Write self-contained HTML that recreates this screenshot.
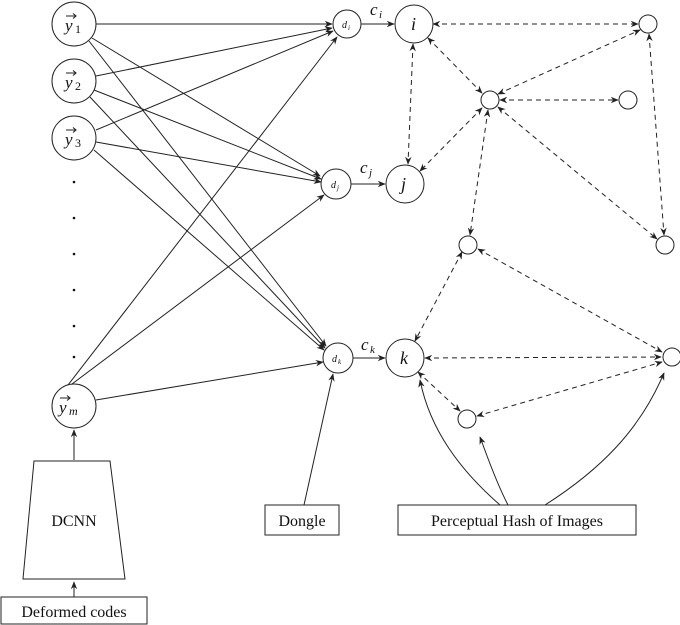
<!DOCTYPE html>
<html><head><style>body{margin:0;background:#fff}svg{display:block}</style></head><body>
<svg width="680" height="625" viewBox="0 0 680 625" xmlns="http://www.w3.org/2000/svg" font-family="Liberation Serif, DejaVu Serif, serif">
<defs><marker id="a" viewBox="0 0 10 10" refX="9" refY="5" markerWidth="8" markerHeight="8" orient="auto-start-reverse" markerUnits="userSpaceOnUse"><path d="M0,1 L10,5 L0,9 L3,5 z" fill="#222"/></marker></defs>
<g stroke="#222" stroke-width="1" fill="none">
<circle cx="74" cy="24" r="22"/><circle cx="74" cy="81" r="22"/><circle cx="74" cy="138" r="22"/><circle cx="74" cy="406" r="22"/>
<circle cx="347" cy="24" r="14"/><circle cx="336" cy="184" r="15"/><circle cx="338" cy="358" r="15"/>
<circle cx="414" cy="24" r="19"/><circle cx="405" cy="184" r="19"/><circle cx="405" cy="358" r="19"/>
<circle cx="648" cy="24" r="9"/><circle cx="490" cy="100" r="9"/><circle cx="628" cy="100" r="9"/><circle cx="665" cy="245" r="9"/><circle cx="468" cy="245" r="9"/><circle cx="672" cy="357" r="9"/><circle cx="467" cy="419" r="9"/>
<path d="M34,461 L110,461 L125,579 L23,579 Z"/>
<rect x="1" y="597" width="146" height="27"/><rect x="265" y="505" width="74" height="30"/><rect x="398" y="505" width="238" height="30"/>
<g marker-end="url(#a)">
<line x1="96" y1="24" x2="332" y2="24"/><line x1="92" y1="38" x2="320" y2="176"/><line x1="89" y1="41" x2="326" y2="346"/>
<line x1="96" y1="76" x2="332" y2="28"/><line x1="94" y1="90" x2="321" y2="179"/><line x1="90" y1="97" x2="325" y2="348"/>
<line x1="96" y1="130" x2="333" y2="31"/><line x1="96" y1="142" x2="321" y2="182"/><line x1="94" y1="150" x2="324" y2="350"/>
<line x1="68" y1="385" x2="337" y2="37"/><line x1="72" y1="384" x2="324" y2="195"/><line x1="96" y1="400" x2="323" y2="362"/>
<line x1="361" y1="24" x2="394" y2="24"/><line x1="351" y1="184" x2="385" y2="184"/><line x1="353" y1="358" x2="385" y2="358"/>
<line x1="74" y1="460" x2="74" y2="430"/><line x1="74" y1="597" x2="74" y2="582"/>
<line x1="304" y1="505" x2="333" y2="374"/>
<path d="M500,505 C460,470 430,430 420,380"/><path d="M508,505 C495,480 485,450 480,437"/><path d="M545,505 C600,470 640,430 664,373"/>
</g>
<g stroke-dasharray="5,4" marker-start="url(#a)" marker-end="url(#a)">
<line x1="433" y1="24" x2="638" y2="24"/><line x1="413" y1="44" x2="408" y2="164"/>
<line x1="428" y1="38" x2="482" y2="93"/><line x1="482" y1="108" x2="420" y2="171"/>
<line x1="500" y1="100" x2="618" y2="100"/><line x1="498" y1="94" x2="640" y2="30"/>
<line x1="498" y1="107" x2="657" y2="239"/><line x1="488" y1="110" x2="470" y2="235"/>
<line x1="649" y1="34" x2="664" y2="235"/><line x1="462" y1="252" x2="415" y2="341"/>
<line x1="478" y1="249" x2="662" y2="352"/><line x1="425" y1="358" x2="661" y2="357"/>
<line x1="418" y1="372" x2="460" y2="411"/><line x1="477" y1="416" x2="662" y2="362"/>
</g>
<g stroke-width="1.1">
<path d="M66,16 h10 M73,13.5 l3,2.5 l-3,2.5"/><path d="M66,73 h10 M73,70.5 l3,2.5 l-3,2.5"/><path d="M66,130 h10 M73,127.5 l3,2.5 l-3,2.5"/><path d="M60,398 h10 M67,395.5 l3,2.5 l-3,2.5"/>
</g></g>
<g font-style="italic" font-size="17" fill="#111">
<text x="65" y="31">y</text><text x="75" y="33" font-size="12" font-style="normal">1</text>
<text x="65" y="88">y</text><text x="75" y="90" font-size="12" font-style="normal">2</text>
<text x="65" y="145">y</text><text x="75" y="147" font-size="12" font-style="normal">3</text>
<text x="59" y="413">y</text><text x="69" y="415" font-size="12">m</text>
<text x="342" y="28" font-size="10">d</text><text x="348" y="30" font-size="7">i</text>
<text x="331" y="188" font-size="10">d</text><text x="337" y="190" font-size="7">j</text>
<text x="332" y="362" font-size="10">d</text><text x="338" y="364" font-size="7">k</text>
<text x="411" y="30" font-size="18">i</text><text x="401" y="190" font-size="18">j</text><text x="400" y="364" font-size="18">k</text>
<text x="370" y="15">c</text><text x="379" y="18" font-size="11">i</text>
<text x="360" y="173">c</text><text x="369" y="176" font-size="11">j</text>
<text x="361" y="350">c</text><text x="370" y="353" font-size="11">k</text>
</g>
<g fill="#111"><circle cx="74" cy="182" r="1.3"/><circle cx="74" cy="218" r="1.3"/><circle cx="74" cy="254" r="1.3"/><circle cx="74" cy="290" r="1.3"/><circle cx="74" cy="326" r="1.3"/><circle cx="74" cy="357" r="1.3"/></g>
<g font-size="16" text-anchor="middle" fill="#111">
<text x="74" y="526">DCNN</text><text x="74" y="617">Deformed codes</text><text x="302" y="526">Dongle</text><text x="517" y="526">Perceptual Hash of Images</text>
</g>
</svg></body></html>
